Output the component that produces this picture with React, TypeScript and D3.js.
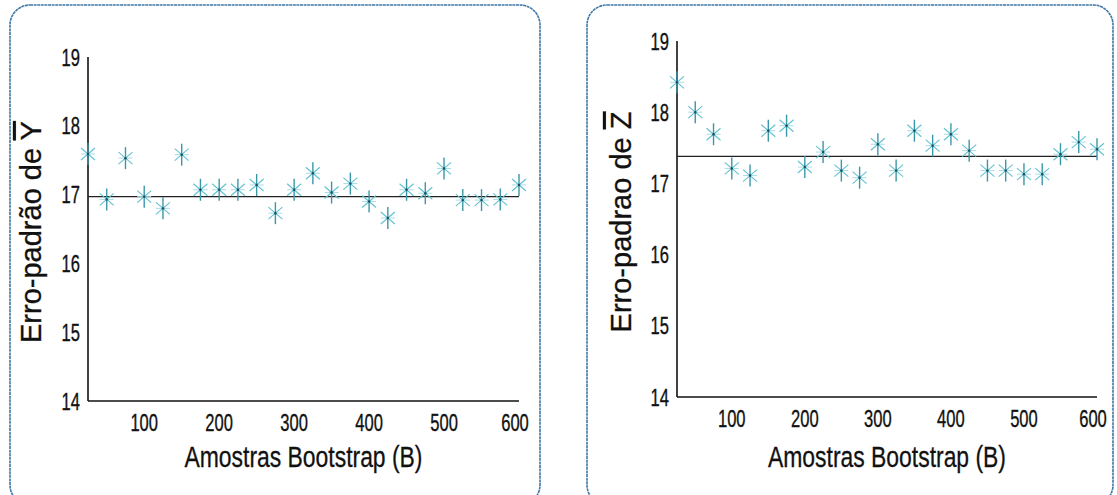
import React from 'react';
import * as d3 from 'd3';

// amostras bootstrap (B)
const bootstrapB = [25, 50, 75, 100, 125, 150, 175, 200, 225, 250, 275, 300,
    325, 350, 375, 400, 425, 450, 475, 500, 525, 550, 575, 600];

// erro-padrão da média de Y
const erroY = [17.59, 16.93, 17.53, 16.97, 16.80, 17.58, 17.07, 17.07, 17.07, 17.14, 16.73, 17.07,
    17.31, 17.03, 17.16, 16.90, 16.66, 17.07, 17.02, 17.38, 16.92, 16.92, 16.93, 17.14];
const mediaY = 16.97;

// erro-padrão da média de Z
const erroZ = [18.42, 18.00, 17.69, 17.21, 17.11, 17.74, 17.81, 17.23, 17.44, 17.18, 17.08, 17.55,
    17.18, 17.74, 17.53, 17.69, 17.46, 17.18, 17.18, 17.13, 17.13, 17.41, 17.58, 17.48];
const mediaZ = 17.38;

const xTicks = [100, 200, 300, 400, 500, 600];
const yTicks = [14, 15, 16, 17, 18, 19];

const FONT = "'Liberation Sans', Arial, sans-serif";

const Star = ({ x, y }) => (
    <g transform={`translate(${x},${y})`}>
        <line x1={-7} y1={0} x2={7} y2={0} stroke="#a6dde6" strokeWidth={1} />
        <line x1={-7} y1={-6} x2={7} y2={6} stroke="#62c0d0" strokeWidth={1.1} />
        <line x1={-7} y1={6} x2={7} y2={-6} stroke="#62c0d0" strokeWidth={1.1} />
        <line x1={0} y1={-11} x2={0} y2={11} stroke="#3a97aa" strokeWidth={1.4} />
        <circle r={1.2} fill="#1d4f5c" />
    </g>
);

const Panel = ({ box, axisX, axisEnd, yBottom, yTop, values, mean, letter, labelX, labelCenter, accent }) => {
    const x = d3.scaleLinear().domain([25, 600]).range([axisX, axisEnd]);
    const y = d3.scaleLinear().domain([14, 19]).range([yBottom, yTop]);
    const midX = (axisX + axisEnd) / 2;

    return (
        <g>
            <rect x={box.x} y={box.y} width={box.w} height={box.h} rx={20} ry={20}
                fill="white" stroke="#3f78a6" strokeWidth={1.6} strokeDasharray="3 0.6" />

            {/* eixos */}
            <line x1={axisX} y1={y(19)} x2={axisX} y2={y(14)} stroke="#111" strokeWidth={1.6} />
            <line x1={axisX} y1={y(14)} x2={axisEnd} y2={y(14)} stroke="#111" strokeWidth={1.6} />
            <line x1={axisX} y1={y(mean)} x2={x(600)} y2={y(mean)} stroke="#222" strokeWidth={1.4} />

            {yTicks.map(t => (
                <text key={t} x={axisX - 8} y={y(t)} dy="0.36em" textAnchor="end"
                    fontFamily={FONT} fontSize={24} fill="#111" stroke="#111" strokeWidth={0.35}
                    textLength={String(t).length * 9.2} lengthAdjust="spacingAndGlyphs">{t}</text>
            ))}
            {xTicks.map(t => (
                <text key={t} x={x(t) - (t === 600 ? 4 : 0)} y={y(14) + 30} textAnchor="middle"
                    fontFamily={FONT} fontSize={24} fill="#111" stroke="#111" strokeWidth={0.35}
                    textLength={String(t).length * 9.2} lengthAdjust="spacingAndGlyphs">{t}</text>
            ))}

            <text x={midX} y={467} textAnchor="middle" fontFamily={FONT} fontSize={30} fill="#111"
                stroke="#111" strokeWidth={0.3}
                textLength={238} lengthAdjust="spacingAndGlyphs">Amostras Bootstrap (B)</text>

            <text transform={`translate(${labelX},${labelCenter}) rotate(-90)`} textAnchor="middle"
                fontFamily={FONT} fontSize={29} fill="#111" stroke="#111" strokeWidth={0.3}>
                {accent ? 'Erro-padrão de ' : 'Erro-padrao de '}
                <tspan style={{ textDecoration: 'overline' }}>{letter}</tspan>
            </text>

            {values.map((v, i) => (
                <Star key={i} x={x(bootstrapB[i])} y={y(v)} />
            ))}
        </g>
    );
};

export default function App() {
    return (
        <svg width={1117} height={495} style={{ position: 'absolute', left: 0, top: 0, background: 'white' }}>
            <Panel box={{ x: 10, y: 5, w: 530, h: 500 }} axisX={88} axisEnd={519} yBottom={401} yTop={57}
                values={erroY} mean={mediaY} letter="Y" labelX={41} labelCenter={232} accent={true} />
            <Panel box={{ x: 587, y: 5, w: 526, h: 500 }} axisX={677} axisEnd={1097} yBottom={397} yTop={41}
                values={erroZ} mean={mediaZ} letter="Z" labelX={631} labelCenter={222} accent={false} />
        </svg>
    );
}
